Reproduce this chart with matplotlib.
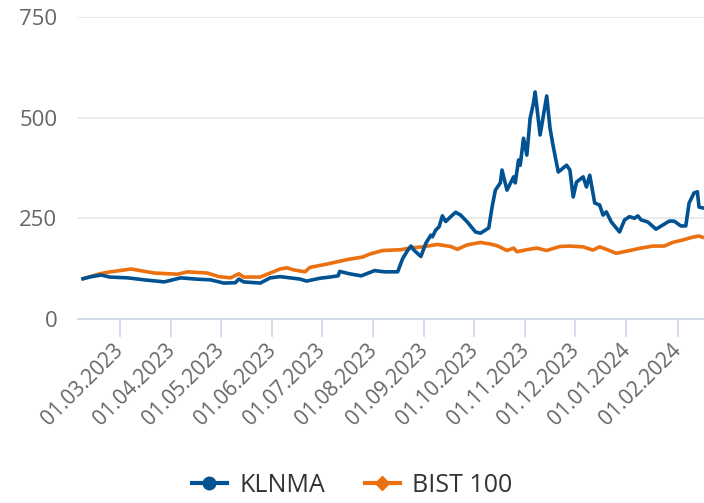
import pandas as pd
import matplotlib.pyplot as plt
import matplotlib.dates as mdates
import matplotlib.transforms as mtransforms
from matplotlib.lines import Line2D

plt.rcParams['font.family'] = ['Open Sans', 'DejaVu Sans']

# KLNMA, normalised to 100 at start
klnma_dates = [
    "2023-02-07", "2023-02-12", "2023-02-18", "2023-02-23", "2023-03-06", "2023-03-16",
    "2023-03-28", "2023-04-07", "2023-04-16", "2023-04-25", "2023-05-03", "2023-05-10",
    "2023-05-12", "2023-05-15", "2023-05-25", "2023-05-31", "2023-06-06", "2023-06-18",
    "2023-06-22", "2023-06-30", "2023-07-06", "2023-07-11", "2023-07-12", "2023-07-18",
    "2023-07-25", "2023-08-02", "2023-08-08", "2023-08-16", "2023-08-19", "2023-08-22",
    "2023-08-24", "2023-08-26", "2023-08-30", "2023-09-02", "2023-09-05", "2023-09-06",
    "2023-09-08", "2023-09-10", "2023-09-12", "2023-09-14", "2023-09-17", "2023-09-20",
    "2023-09-23", "2023-09-27", "2023-10-02", "2023-10-05", "2023-10-10", "2023-10-12",
    "2023-10-14", "2023-10-17", "2023-10-18", "2023-10-21", "2023-10-25", "2023-10-26",
    "2023-10-28", "2023-10-29", "2023-10-31", "2023-11-02", "2023-11-04", "2023-11-06",
    "2023-11-07", "2023-11-10", "2023-11-14", "2023-11-16", "2023-11-18", "2023-11-21",
    "2023-11-26", "2023-11-28", "2023-11-30", "2023-12-02", "2023-12-06", "2023-12-08",
    "2023-12-10", "2023-12-13", "2023-12-16", "2023-12-18", "2023-12-20", "2023-12-23",
    "2023-12-28", "2023-12-31", "2024-01-03", "2024-01-06", "2024-01-08", "2024-01-10",
    "2024-01-14", "2024-01-19", "2024-01-23", "2024-01-27", "2024-01-30", "2024-02-03",
    "2024-02-06", "2024-02-08", "2024-02-11", "2024-02-13", "2024-02-14", "2024-02-16",
]
klnma_values = [
    100, 105, 109, 104, 102, 97,
    92, 102, 99, 97, 89, 90,
    99, 92, 89, 102, 105, 99,
    94, 101, 104, 107, 118, 112,
    107, 120, 117, 117, 150, 170,
    181, 170, 155, 188, 208, 204,
    221, 229, 256, 242, 254, 265,
    258, 241, 216, 213, 226, 278,
    320, 338, 370, 320, 353, 338,
    395, 382, 449, 407, 499, 536,
    564, 457, 554, 474, 427, 365,
    382, 370, 303, 340, 353, 328,
    357, 288, 283, 258, 266, 241,
    216, 246, 254, 250, 256, 246,
    241, 223, 233, 243, 243, 231,
    231, 288, 313, 316, 278, 276,
]

# BIST 100, normalised to 100 at start
bist_dates = [
    "2023-02-07", "2023-02-17", "2023-02-22", "2023-03-08", "2023-03-22", "2023-04-05",
    "2023-04-11", "2023-04-23", "2023-04-30", "2023-05-07", "2023-05-12", "2023-05-15",
    "2023-05-25", "2023-05-31", "2023-06-06", "2023-06-10", "2023-06-14", "2023-06-21",
    "2023-06-24", "2023-07-04", "2023-07-16", "2023-07-26", "2023-07-30", "2023-08-07",
    "2023-08-18", "2023-08-23", "2023-08-31", "2023-09-09", "2023-09-17", "2023-09-21",
    "2023-09-27", "2023-10-05", "2023-10-11", "2023-10-15", "2023-10-21", "2023-10-25",
    "2023-10-27", "2023-11-02", "2023-11-08", "2023-11-14", "2023-11-22", "2023-11-28",
    "2023-12-06", "2023-12-12", "2023-12-16", "2023-12-20", "2023-12-26", "2024-01-02",
    "2024-01-10", "2024-01-17", "2024-01-24", "2024-01-29", "2024-02-04", "2024-02-10",
    "2024-02-14", "2024-02-16",
]
bist_values = [
    100, 112, 116, 124, 114, 111,
    117, 114, 105, 102, 112, 104,
    104, 114, 124, 127, 122, 117,
    128, 136, 147, 154, 161, 170,
    172, 176, 179, 185, 180, 173,
    184, 190, 186, 182, 170, 176,
    167, 172, 176, 170, 180, 181,
    179, 171, 179, 173, 163, 169,
    176, 181, 181, 190, 196, 203,
    206, 203,
]

blue = '#005293'
orange = '#eb700f'

fig = plt.figure(figsize=(7.04, 5.03), dpi=100)
ax = fig.add_axes([0.111, 0.366, 0.889, 0.600])

ax.plot(pd.to_datetime(klnma_dates), klnma_values, color=blue, lw=2.6, zorder=3)
ax.plot(pd.to_datetime(bist_dates), bist_values, color=orange, lw=2.6, zorder=2)

ax.set_ylim(0, 750)
ax.set_yticks([0, 250, 500, 750])
ax.set_xlim(pd.Timestamp("2023-02-04"), pd.Timestamp("2024-02-17"))
ax.xaxis.set_major_locator(mdates.MonthLocator(bymonthday=1))
ax.xaxis.set_major_formatter(mdates.DateFormatter('%d.%m.%Y'))

ax.grid(axis='y', color='#e6e6e6', lw=1.2)
ax.set_axisbelow(True)
for s in ['top', 'right', 'left']:
    ax.spines[s].set_visible(False)
ax.spines['bottom'].set_color('#ccd6eb')
ax.spines['bottom'].set_linewidth(1.2)

ax.tick_params(axis='y', length=0, pad=15, labelsize=16, labelcolor='#666666')
ax.tick_params(axis='x', length=13, width=1.2, color='#ccd6eb', pad=2,
               labelsize=15, labelcolor='#666666')
shift = mtransforms.ScaledTranslation(6 / 72, 0, fig.dpi_scale_trans)
for lbl in ax.get_xticklabels():
    lbl.set_rotation(45)
    lbl.set_ha('right')
    lbl.set_va('top')
    lbl.set_transform(lbl.get_transform() + shift)

handles = [
    Line2D([], [], color=blue, lw=3, marker='o', markersize=9),
    Line2D([], [], color=orange, lw=3, marker='D', markersize=7),
]
fig.legend(handles, ['KLNMA', 'BIST 100'], loc='lower center', bbox_to_anchor=(0.50, -0.035),
           ncol=2, frameon=False, fontsize=18, labelcolor='#333333',
           handlelength=1.4, columnspacing=1.6, handletextpad=0.5)

fig.savefig('out.png', dpi=100)
